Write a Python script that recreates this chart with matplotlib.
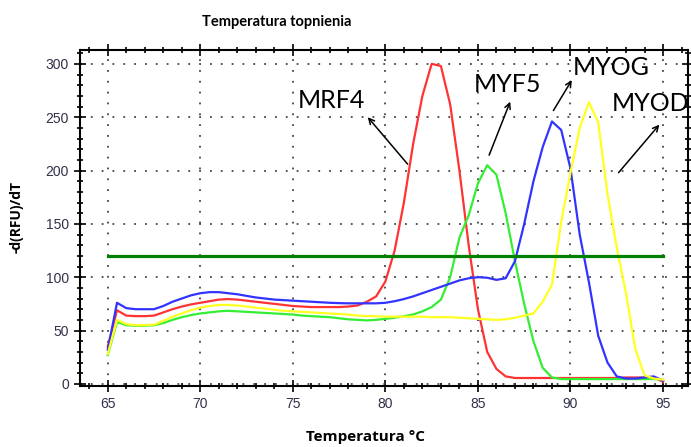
import matplotlib
matplotlib.use("Agg")
import matplotlib.pyplot as plt
from matplotlib.ticker import MultipleLocator

# temperatura (°C), krok 0.5
temps = [65.0, 65.5, 66.0, 66.5, 67.0, 67.5, 68.0, 68.5, 69.0, 69.5,
         70.0, 70.5, 71.0, 71.5, 72.0, 72.5, 73.0, 73.5, 74.0, 74.5,
         75.0, 75.5, 76.0, 76.5, 77.0, 77.5, 78.0, 78.5, 79.0, 79.5,
         80.0, 80.5, 81.0, 81.5, 82.0, 82.5, 83.0, 83.5, 84.0, 84.5,
         85.0, 85.5, 86.0, 86.5, 87.0, 87.5, 88.0, 88.5, 89.0, 89.5,
         90.0, 90.5, 91.0, 91.5, 92.0, 92.5, 93.0, 93.5, 94.0, 94.5,
         95.0]

mrf4 = [35, 69, 64, 63.5, 63.5, 64, 67, 70, 72.5, 74.5,
        76, 77.5, 79, 79.5, 79, 78, 77, 76, 75, 74,
        73, 72.5, 72, 72, 72, 72, 72.5, 73.5, 77, 82,
        96, 125, 170, 225, 270, 300, 298, 262, 200, 130,
        70, 30, 14, 7, 5.5, 5.5, 5.5, 5.5, 5.5, 5.5,
        5.5, 5.5, 5.5, 5.5, 5.5, 5.5, 6, 6, 6, 6,
        2]

myf5 = [27, 58, 55, 54.5, 54.5, 55, 57, 60, 62.5, 64.5,
        66, 67, 68, 68.5, 68, 67.5, 67, 66.5, 66, 65.5,
        65, 64, 63.5, 63, 62.5, 61.5, 60.5, 60, 59.5, 60,
        61, 62, 63.5, 65, 68, 72, 79, 100, 137, 158,
        188, 205, 196, 160, 115, 75, 40, 15, 6, 4.5,
        4.5, 4.5, 4.5, 4.5, 4.5, 4.5, 4.5, 4.5, 4.5, 4.5,
        4]

myog = [32, 76, 71, 70, 70, 70, 73, 77, 80, 83,
        85, 86, 86, 85, 84, 82.5, 81, 80, 79, 78.5,
        78, 77.5, 77, 76.5, 76, 75.7, 75.5, 75.5, 75.5, 75.5,
        76, 77.5, 79.5, 82, 85, 88, 91, 94, 97, 99,
        100, 99.5, 97.5, 99, 115, 150, 190, 222, 246, 238,
        202, 140, 95, 45, 20, 7, 5, 5, 6, 7,
        3]

myod = [28, 60, 56, 55, 55, 55.5, 59, 63, 66, 69,
        71.5, 73, 74, 74, 73.5, 72.5, 71.5, 70.5, 69.5, 68.5,
        68, 67.5, 67, 66.5, 66, 65.5, 65, 64, 63.5, 63.5,
        63, 63, 63, 63, 63, 62.5, 62.5, 62.5, 62, 61.5,
        61, 60.5, 60, 60.5, 62, 64, 66, 77, 93, 152,
        198, 240, 264, 245, 178, 128, 85, 33, 8, 5,
        4]

threshold = 120

series = [("MRF4", mrf4, "#ff3333"), ("MYF5", myf5, "#33ee33"),
          ("MYOG", myog, "#3333ff"), ("MYOD", myod, "#ffff22")]

fig = plt.figure(figsize=(6.91, 4.47), dpi=100)
ax = fig.add_axes([80 / 691, 1 - 386 / 447, 608 / 691, 336 / 447])

for name, vals, col in series:
    ax.plot(temps, vals, color=col, lw=1.6, zorder=3)

ax.plot([temps[0], temps[-1]], [threshold, threshold], color="#008000", lw=2.3, zorder=4)

ax.set_xlim(63.5, 96.35)
ax.set_ylim(-2, 313)
ax.xaxis.set_major_locator(MultipleLocator(5))
ax.xaxis.set_minor_locator(MultipleLocator(1))
ax.yaxis.set_major_locator(MultipleLocator(50))
ax.yaxis.set_minor_locator(MultipleLocator(10))
ax.grid(True, which="major", color="#444444", linestyle=(0, (1, 5)), lw=1.3)
ax.set_axisbelow(True)
ax.tick_params(which="both", direction="inout", top=True, right=True,
               labelsize=10, labelcolor="#30304a", width=1.2)
ax.tick_params(which="major", length=9)
ax.tick_params(which="minor", length=5)
for lbl in ax.get_xticklabels() + ax.get_yticklabels():
    lbl.set_family("Liberation Sans")
for sp in ax.spines.values():
    sp.set_linewidth(1.5)

# strzałki i podpisy
arrows = [("MRF4", (78.95, 252), (81.3, 204), (77.1, 266)),
          ("MYF5", (86.8, 267), (85.55, 212), (86.6, 281)),
          ("MYOG", (90.15, 287), (89.0, 254), (92.2, 297)),
          ("MYOD", (94.9, 245), (92.5, 196), (94.35, 263))]
for name, head, tail, txt in arrows:
    ax.annotate("", xy=head, xytext=tail,
                arrowprops=dict(arrowstyle="->", color="black", lw=1.1), zorder=5)
    ax.text(txt[0], txt[1], name, fontsize=18, family="Lato",
            ha="center", va="center", clip_on=False, zorder=6)

fig.text(277 / 691, 1 - 22 / 447, "Temperatura topnienia", fontsize=10.5,
         fontweight="bold", family="Lato", ha="center", va="center")
fig.text(366 / 691, 1 - 437 / 447, "Temperatura °C", fontsize=11,
         fontweight="bold", family="Open Sans", ha="center", va="center")
fig.text(17 / 691, 1 - 217 / 447, "-d(RFU)/dT", fontsize=10, rotation=90,
         fontweight="bold", family="Open Sans", ha="center", va="center")

fig.savefig("out.png", dpi=100)
